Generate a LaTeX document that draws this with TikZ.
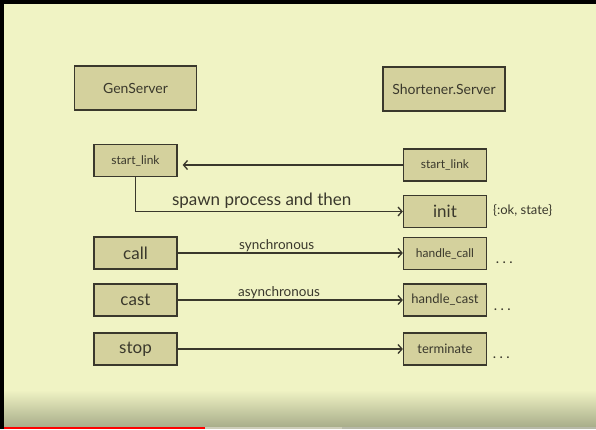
\documentclass[tikz,border=0pt]{standalone}
\usepackage{fontspec}
\setmainfont{Lato}
\usetikzlibrary{arrows.meta}
\definecolor{bg}{RGB}{240,243,196}
\definecolor{boxfill}{RGB}{212,209,157}
\definecolor{ink}{RGB}{58,56,44}
\definecolor{chromebot}{RGB}{168,173,138}
\definecolor{barred}{RGB}{255,0,0}
\definecolor{bargray}{RGB}{205,205,185}
\newcommand{\fs}[1]{\fontsize{#1}{#1}\selectfont}
\begin{document}
\begin{tikzpicture}[x=1pt,y=-1pt,
  box/.style={draw=ink, fill=boxfill, line width=1.3pt, minimum width=83pt, minimum height=32pt, inner sep=0pt, text=ink, font=\fs{12}},
  bigbox/.style={box, minimum width=122pt, minimum height=44pt, font=\fs{14}},
  bigtxt/.style={font=\fs{17}},
  midtxt/.style={font=\fs{13}},
  arr/.style={draw=ink, line width=1.3pt, -{Straight Barb[length=4pt,width=9pt,line width=1.3pt]}},
  lbl/.style={text=ink, inner sep=1pt, font=\fs{13.5}},
  dots/.style={text=ink, inner sep=0pt, font=\fs{12}\bfseries}]
% background and video chrome
\fill[bg] (0,0) rectangle (596,429);
\useasboundingbox (0,0) rectangle (596,429);
\shade[top color=bg, bottom color=chromebot] (4,390) rectangle (596,427);
\fill[black] (0,0) rectangle (596,3.5);
\fill[black] (0,0) rectangle (4,429);
\fill[chromebot!80!black!60] (4,427) rectangle (596,429);
\fill[bargray] (205,427) rectangle (342,429);
\fill[barred] (4,427) rectangle (205,429);
% header boxes
\node[bigbox] (gs) at (135.5,88) {GenServer};
\node[bigbox, font=\fs{14}] (ss) at (444,89) {Shortener.Server};
% left column
\node[box] (lsl) at (135.5,160.5) {start\_link};
\node[box, bigtxt] (call) at (135.5,253) {call};
\node[box, bigtxt] (cast) at (135.5,300) {cast};
\node[box, bigtxt] (stop) at (135.5,349) {stop};
% right column
\node[box] (rsl) at (445,165) {start\_link};
\node[box, bigtxt] (init) at (445,211.5) {init};
\node[box] (hcall) at (445,253.5) {handle\_call};
\node[box, midtxt] (hcast) at (445,300) {handle\_cast};
\node[box, midtxt] (term) at (445,349) {terminate};
% side notes
\node[lbl, anchor=west, font=\fs{13}] (okstate) at (492,210) {\{:ok, state\}};
\node[dots, anchor=west] (d1) at (496,263) {. . .};
\node[dots, anchor=west] (d2) at (494,310) {. . .};
\node[dots, anchor=west] (d3) at (493,358) {. . .};
% connectors
\coordinate (slend) at ([xshift=5pt]lsl.east |- rsl.west);
\draw[arr] (rsl.west) -- (slend);
\draw[arr] (lsl.south) |- node[lbl, pos=0.736, above=1pt, font=\fs{17}] {spawn process and then} (init.west);
\draw[arr] (call.east) -- node[lbl, pos=0.44, above=0pt] {synchronous} (call.east -| hcall.west);
\draw[arr] (cast.east) -- node[lbl, pos=0.45, above=0pt] {asynchronous} (cast.east -| hcast.west);
\draw[arr] (stop.east) -- (stop.east -| term.west);
\end{tikzpicture}
\end{document}
